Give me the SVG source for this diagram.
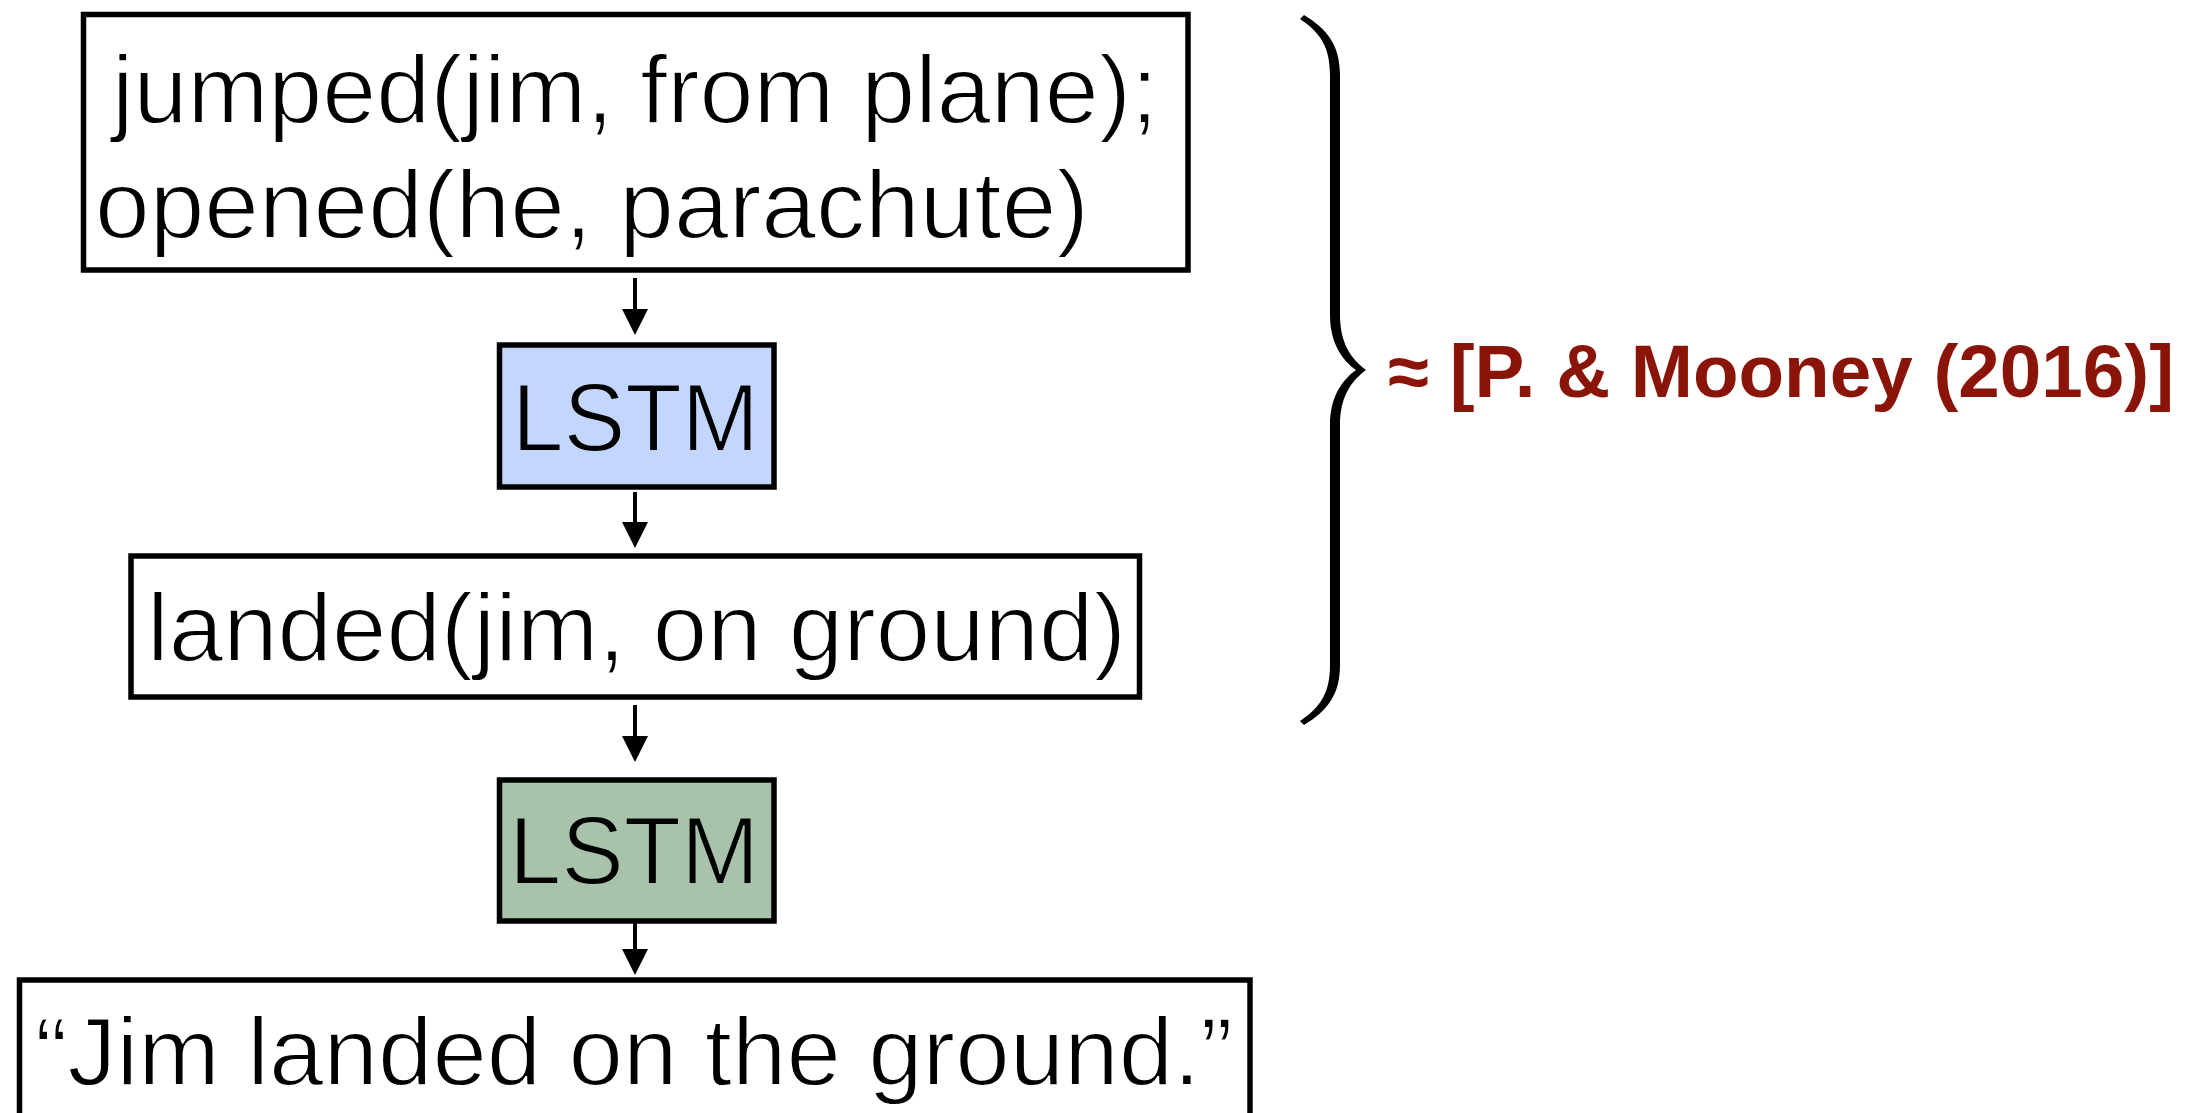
<svg xmlns="http://www.w3.org/2000/svg" width="2203" height="1113" viewBox="0 0 2203 1113">
  <style>
    .box { fill: #ffffff; stroke: #000000; stroke-width: 5.5; }
    .lstm-enc { fill: #c3d6fe; stroke: #000000; stroke-width: 5.5; }
    .lstm-dec { fill: #a8c3a9; stroke: #000000; stroke-width: 5.5; }
    /* light-weight labels: a thin halo in the box colour trims the glyph stems */
    .lbl { font-family: "Liberation Sans", Arial, Helvetica, sans-serif; font-size: 97px; fill: #000000; stroke: #ffffff; stroke-width: 1.8; }
    .lbl-enc { stroke: #c3d6fe; }
    .lbl-dec { stroke: #a8c3a9; }
    .edge { stroke: #000000; stroke-width: 4; fill: none; }
    .cite { font-family: "Liberation Sans", Arial, Helvetica, sans-serif; font-size: 74px; font-weight: bold; fill: #8a1407; }
  </style>
  <defs>
    <marker id="head" markerUnits="userSpaceOnUse" markerWidth="28" markerHeight="28" refX="2" refY="13" orient="auto">
      <path d="M0,0 L26,13 L0,26 Z" fill="#000000"/>
    </marker>
  </defs>

  <rect width="2203" height="1113" fill="#ffffff"/>

  <!-- input events -->
  <g id="events-in">
    <rect class="box" x="83.5" y="14.5" width="1104.5" height="255.5"/>
    <text class="lbl" x="112" y="123" textLength="1046" lengthAdjust="spacingAndGlyphs">jumped(jim, from plane);</text>
    <text class="lbl" x="95" y="238" textLength="994" lengthAdjust="spacingAndGlyphs">opened(he, parachute)</text>
  </g>

  <!-- event LSTM -->
  <g id="lstm-event">
    <rect class="lstm-enc" x="499.5" y="345" width="274.5" height="142"/>
    <text class="lbl lbl-enc" x="512" y="451" textLength="247" lengthAdjust="spacingAndGlyphs">LSTM</text>
  </g>

  <!-- predicted event -->
  <g id="event-out">
    <rect class="box" x="131" y="556" width="1008.5" height="141"/>
    <text class="lbl" x="147" y="661" textLength="979" lengthAdjust="spacingAndGlyphs">landed(jim, on ground)</text>
  </g>

  <!-- text LSTM -->
  <g id="lstm-text">
    <rect class="lstm-dec" x="499.5" y="780" width="274.5" height="141"/>
    <text class="lbl lbl-dec" x="509" y="884" textLength="250" lengthAdjust="spacingAndGlyphs">LSTM</text>
  </g>

  <!-- generated sentence -->
  <g id="sentence">
    <rect class="box" x="19.5" y="980" width="1230.5" height="160"/>
    <text class="lbl" x="35" y="1085" textLength="1198" lengthAdjust="spacingAndGlyphs">“Jim landed on the ground.”</text>
  </g>

  <!-- connectors -->
  <g id="connectors">
    <line class="edge" x1="635" y1="278" x2="635" y2="311" marker-end="url(#head)"/>
    <line class="edge" x1="635" y1="492" x2="635" y2="524" marker-end="url(#head)"/>
    <line class="edge" x1="635" y1="705" x2="635" y2="738" marker-end="url(#head)"/>
    <line class="edge" x1="635" y1="923" x2="635" y2="951" marker-end="url(#head)"/>
  </g>

  <!-- brace grouping the event model: filled, thick in the middle, thin at the ends -->
  <g id="brace">
    <path d="M1300,19 C1321,33 1330,48 1330,75 L1330,315 C1330,343 1342,360 1356,370 C1342,380 1330,397 1330,425 L1330,665 C1330,692 1321,707 1300,721 L1304,725 C1327,711 1340,695 1340,665 L1340,425 C1340,398 1350,382 1366,370 C1350,358 1340,342 1340,315 L1340,75 C1340,45 1327,29 1304,15 Z"
          fill="#000000"/>
  </g>

  <!-- citation -->
  <g id="citation">
    <text class="cite" x="1388" y="397" textLength="786" lengthAdjust="spacingAndGlyphs">≈ [P. &amp; Mooney (2016)]</text>
  </g>
</svg>
